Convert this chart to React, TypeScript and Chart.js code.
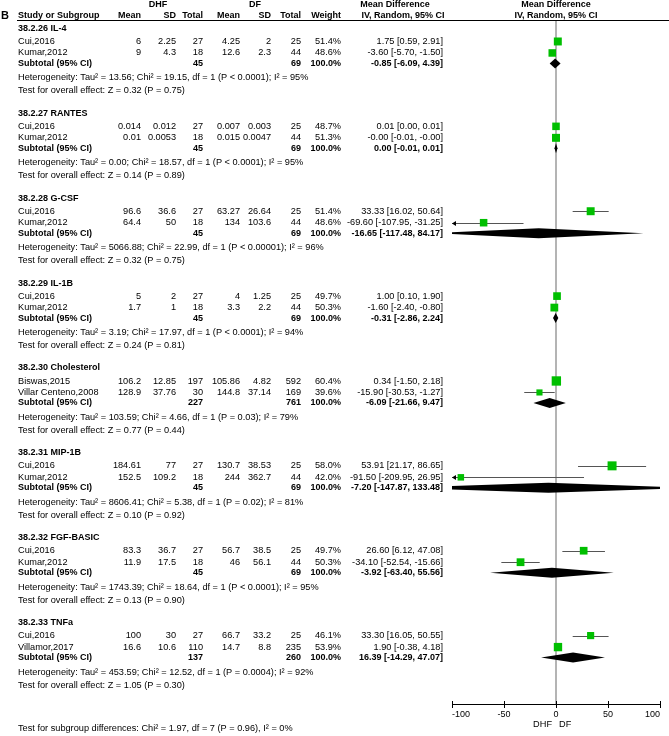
import React, { useEffect, useRef } from 'react';
import { Chart, registerables } from 'chart.js';

Chart.register(...registerables);

// ---------------- data ----------------
const groupTitles = [
  '38.2.26 IL-4',
  '38.2.27 RANTES',
  '38.2.28 G-CSF',
  '38.2.29 IL-1B',
  '38.2.30 Cholesterol',
  '38.2.31 MIP-1B',
  '38.2.32 FGF-BASIC',
  '38.2.33 TNFa',
];

const studyGroup = [0, 0, 1, 1, 2, 2, 3, 3, 4, 4, 5, 5, 6, 6, 7, 7];
const studyNames = [
  'Cui,2016', 'Kumar,2012',
  'Cui,2016', 'Kumar,2012',
  'Cui,2016', 'Kumar,2012',
  'Cui,2016', 'Kumar,2012',
  'Biswas,2015', 'Villar Centeno,2008',
  'Cui,2016', 'Kumar,2012',
  'Cui,2016', 'Kumar,2012',
  'Cui,2016', 'Villamor,2017',
];
const dhfMean = ['6', '9', '0.014', '0.01', '96.6', '64.4', '5', '1.7', '106.2', '128.9', '184.61', '152.5', '83.3', '11.9', '100', '16.6'];
const dhfSD = ['2.25', '4.3', '0.012', '0.0053', '36.6', '50', '2', '1', '12.85', '37.76', '77', '109.2', '36.7', '17.5', '30', '10.6'];
const dhfTotal = [27, 18, 27, 18, 27, 18, 27, 18, 197, 30, 27, 18, 27, 18, 27, 110];
const dfMean = ['4.25', '12.6', '0.007', '0.015', '63.27', '134', '4', '3.3', '105.86', '144.8', '130.7', '244', '56.7', '46', '66.7', '14.7'];
const dfSD = ['2', '2.3', '0.003', '0.0047', '26.64', '103.6', '1.25', '2.2', '4.82', '37.14', '38.53', '362.7', '38.5', '56.1', '33.2', '8.8'];
const dfTotal = [25, 44, 25, 44, 25, 44, 25, 44, 592, 169, 25, 44, 25, 44, 25, 235];
const weights = [51.4, 48.6, 48.7, 51.3, 51.4, 48.6, 49.7, 50.3, 60.4, 39.6, 58.0, 42.0, 49.7, 50.3, 46.1, 53.9];
const meanDiff = [1.75, -3.60, 0.01, -0.00, 33.33, -69.60, 1.00, -1.60, 0.34, -15.90, 53.91, -91.50, 26.60, -34.10, 33.30, 1.90];
const ciLow = [0.59, -5.70, 0.00, -0.01, 16.02, -107.95, 0.10, -2.40, -1.50, -30.53, 21.17, -209.95, 6.12, -52.54, 16.05, -0.38];
const ciHigh = [2.91, -1.50, 0.01, -0.00, 50.64, -31.25, 1.90, -0.80, 2.18, -1.27, 86.65, 26.95, 47.08, -15.66, 50.55, 4.18];

const subMean = [-0.85, 0.00, -16.65, -0.31, -6.09, -7.20, -3.92, 16.39];
const subLow = [-6.09, -0.01, -117.48, -2.86, -21.66, -147.87, -63.40, -14.29];
const subHigh = [4.39, 0.01, 84.17, 2.24, 9.47, 133.48, 55.56, 47.07];
const subTotalDhf = [45, 45, 45, 45, 227, 45, 45, 137];
const subTotalDf = [69, 69, 69, 69, 761, 69, 69, 260];
const hetTau2 = ['13.56', '0.00', '5066.88', '3.19', '103.59', '8606.41', '1743.39', '453.59'];
const hetChi2 = ['19.15', '18.57', '22.99', '17.97', '4.66', '5.38', '18.64', '12.52'];
const hetP = ['< 0.0001', '< 0.0001', '< 0.00001', '< 0.0001', '= 0.03', '= 0.02', '< 0.0001', '= 0.0004'];
const hetI2 = [95, 95, 96, 94, 79, 81, 95, 92];
const overallZ = ['0.32', '0.14', '0.32', '0.24', '0.77', '0.10', '0.13', '1.05'];
const overallP = ['0.75', '0.89', '0.75', '0.81', '0.44', '0.92', '0.90', '0.30'];

const xTickMin = -100;
const xTickMax = 100;
const xTickStep = 50;
const subgroupTest = 'Test for subgroup differences: Chi\u00B2 = 1.97, df = 7 (P = 0.96), I\u00B2 = 0%';

// ---------------- layout ----------------
const W = 669;
const H = 736;
const FONT = '"Liberation Sans", Arial, Helvetica, sans-serif';
const PLOT_LEFT = 452;
const PLOT_RIGHT = 660;
const PLOT_TOP = 21;
const PLOT_BOTTOM = 705;
const Y_RANGE = PLOT_BOTTOM - PLOT_TOP;
const FIRST_TITLE = 7.5;
const GROUP_PITCH = 85;
const ROW: Record<string, number> = { title: 0, s0: 13, s1: 24.5, sub: 35, het: 49.5, test: 62.5 };
const COL = { name: 18, m1: 141, sd1: 176, n1: 203, m2: 240, sd2: 271, n2: 301, w: 341, ci: 443 };
const NORMAL_SIZE = 9.2;
const BOLD_SIZE = 9;

const rowValue = (g: number, key: string) => FIRST_TITLE + g * GROUP_PITCH + ROW[key];
const studySlot = studyGroup.map((g, i) => studyGroup.slice(0, i).filter((x) => x === g).length);

const font = (bold: boolean, size?: number) =>
  `${bold ? 'bold ' : ''}${size ?? (bold ? BOLD_SIZE : NORMAL_SIZE)}px ${FONT}`;
const fmt = (v: number) => {
  const s = Math.abs(v).toFixed(2);
  return v < 0 || Object.is(v, -0) ? '-' + s : s;
};
const ciText = (m: number, l: number, h: number) => `${fmt(m)} [${fmt(l)}, ${fmt(h)}]`;

const forestPlugin = {
  id: 'forest',
  beforeDatasetsDraw(chart: any) {
    const { ctx, chartArea } = chart;
    const xs = chart.scales.x;
    const ys = chart.scales.y;
    const x0 = xs.getPixelForValue(0);
    ctx.save();
    // header rule
    ctx.strokeStyle = '#000';
    ctx.lineWidth = 1;
    ctx.beginPath();
    ctx.moveTo(17, chartArea.top - 0.5);
    ctx.lineTo(W, chartArea.top - 0.5);
    ctx.stroke();
    // zero line
    ctx.strokeStyle = '#8c8c8c';
    ctx.lineWidth = 1.3;
    ctx.beginPath();
    ctx.moveTo(x0, chartArea.top);
    ctx.lineTo(x0, chartArea.bottom);
    ctx.stroke();
    // CI lines
    ctx.strokeStyle = '#555';
    ctx.fillStyle = '#000';
    ctx.lineWidth = 1;
    meanDiff.forEach((_, i) => {
      const y = Math.round(ys.getPixelForValue(rowValue(studyGroup[i], 's' + studySlot[i]))) + 0.5;
      const lo = Math.max(ciLow[i], xTickMin);
      const hi = Math.min(ciHigh[i], xTickMax);
      const xl = xs.getPixelForValue(lo);
      const xh = xs.getPixelForValue(hi);
      ctx.beginPath();
      ctx.moveTo(xl, y);
      ctx.lineTo(xh, y);
      ctx.stroke();
      if (ciLow[i] < xTickMin) {
        ctx.beginPath();
        ctx.moveTo(xl, y);
        ctx.lineTo(xl + 4, y - 2.5);
        ctx.lineTo(xl + 4, y + 2.5);
        ctx.closePath();
        ctx.fill();
      }
      if (ciHigh[i] > xTickMax) {
        ctx.beginPath();
        ctx.moveTo(xh, y);
        ctx.lineTo(xh - 4, y - 2.5);
        ctx.lineTo(xh - 4, y + 2.5);
        ctx.closePath();
        ctx.fill();
      }
    });
    // diamonds
    ctx.beginPath();
    ctx.rect(chartArea.left, chartArea.top, chartArea.right - chartArea.left, chartArea.bottom - chartArea.top);
    ctx.clip();
    ctx.fillStyle = '#000';
    subMean.forEach((m, g) => {
      const y = ys.getPixelForValue(rowValue(g, 'sub'));
      let xl = xs.getPixelForValue(subLow[g]);
      let xh = xs.getPixelForValue(subHigh[g]);
      const xm = xs.getPixelForValue(m);
      if (xh - xl < 3) {
        xl = xm - 1.5;
        xh = xm + 1.5;
      }
      ctx.beginPath();
      ctx.moveTo(xl, y);
      ctx.lineTo(xm, y - 5);
      ctx.lineTo(xh, y);
      ctx.lineTo(xm, y + 5);
      ctx.closePath();
      ctx.fill();
    });
    ctx.restore();
  },
  afterDraw(chart: any) {
    const { ctx, chartArea } = chart;
    const xs = chart.scales.x;
    const ys = chart.scales.y;
    const x0 = xs.getPixelForValue(0);
    ctx.save();
    ctx.fillStyle = '#000';
    ctx.textBaseline = 'middle';
    const t = (s: string, x: number, y: number, align: CanvasTextAlign, bold = false, size?: number) => {
      ctx.font = font(bold, size);
      ctx.textAlign = align;
      ctx.fillText(s, x, y);
    };
    // upward halves of the axis ticks
    ctx.strokeStyle = '#000';
    ctx.lineWidth = 1;
    xs.ticks.forEach((tk: any) => {
      const x = Math.round(xs.getPixelForValue(tk.value)) + 0.5;
      ctx.beginPath();
      ctx.moveTo(x, chartArea.bottom - 3);
      ctx.lineTo(x, chartArea.bottom);
      ctx.stroke();
    });
    // headers
    const hy1 = 5;
    const hy2 = 15.5;
    t('B', 1, hy2, 'left', true, 11);
    t('DHF', 158, hy1, 'center', true);
    t('DF', 255, hy1, 'center', true);
    t('Study or Subgroup', COL.name, hy2, 'left', true);
    t('Mean', COL.m1, hy2, 'right', true);
    t('SD', COL.sd1, hy2, 'right', true);
    t('Total', COL.n1, hy2, 'right', true);
    t('Mean', COL.m2, hy2, 'right', true);
    t('SD', COL.sd2, hy2, 'right', true);
    t('Total', COL.n2, hy2, 'right', true);
    t('Weight', COL.w, hy2, 'right', true);
    t('Mean Difference', 395, hy1, 'center', true);
    t('IV, Random, 95% CI', 403, hy2, 'center', true);
    t('Mean Difference', x0, hy1, 'center', true);
    t('IV, Random, 95% CI', x0, hy2, 'center', true);
    // groups
    groupTitles.forEach((title, g) => {
      t(title, COL.name, ys.getPixelForValue(rowValue(g, 'title')), 'left', true);
      const ys0 = ys.getPixelForValue(rowValue(g, 'sub'));
      t('Subtotal (95% CI)', COL.name, ys0, 'left', true);
      t(String(subTotalDhf[g]), COL.n1, ys0, 'right', true);
      t(String(subTotalDf[g]), COL.n2, ys0, 'right', true);
      t('100.0%', COL.w, ys0, 'right', true);
      t(ciText(subMean[g], subLow[g], subHigh[g]), COL.ci, ys0, 'right', true);
      t(
        `Heterogeneity: Tau\u00B2 = ${hetTau2[g]}; Chi\u00B2 = ${hetChi2[g]}, df = 1 (P ${hetP[g]}); I\u00B2 = ${hetI2[g]}%`,
        COL.name, ys.getPixelForValue(rowValue(g, 'het')), 'left'
      );
      t(`Test for overall effect: Z = ${overallZ[g]} (P = ${overallP[g]})`, COL.name, ys.getPixelForValue(rowValue(g, 'test')), 'left');
    });
    studyNames.forEach((name, i) => {
      const y = ys.getPixelForValue(rowValue(studyGroup[i], 's' + studySlot[i]));
      t(name, COL.name, y, 'left');
      t(dhfMean[i], COL.m1, y, 'right');
      t(dhfSD[i], COL.sd1, y, 'right');
      t(String(dhfTotal[i]), COL.n1, y, 'right');
      t(dfMean[i], COL.m2, y, 'right');
      t(dfSD[i], COL.sd2, y, 'right');
      t(String(dfTotal[i]), COL.n2, y, 'right');
      t(weights[i].toFixed(1) + '%', COL.w, y, 'right');
      t(ciText(meanDiff[i], ciLow[i], ciHigh[i]), COL.ci, y, 'right');
    });
    // axis side labels
    t('DHF', x0 - 4, 724.5, 'right');
    t('DF', x0 + 3, 724.5, 'left');
    t(subgroupTest, COL.name, 728.5, 'left');
    ctx.restore();
  },
};

export default function App() {
  const ref = useRef<HTMLCanvasElement | null>(null);
  useEffect(() => {
    document.body.style.margin = '0';
    const canvas = ref.current;
    if (!canvas) return;
    const chart = new Chart(canvas, {
      type: 'scatter',
      data: {
        datasets: [
          {
            data: meanDiff.map((m, i) => ({ x: m, y: rowValue(studyGroup[i], 's' + studySlot[i]) })),
            pointStyle: 'rect',
            pointRadius: (c: any) => (weights[c.dataIndex] * 0.155) / Math.SQRT2,
            pointHoverRadius: (c: any) => (weights[c.dataIndex] * 0.155) / Math.SQRT2,
            backgroundColor: '#00bf00',
            borderWidth: 0,
          },
        ],
      },
      options: {
        responsive: false,
        animation: false,
        events: [],
        layout: { padding: { left: PLOT_LEFT, right: W - PLOT_RIGHT, top: PLOT_TOP, bottom: 15.2 } },
        scales: {
          x: {
            type: 'linear',
            min: xTickMin,
            max: xTickMax,
            position: 'bottom',
            grid: { drawOnChartArea: false, drawTicks: true, tickLength: 4, color: '#000', lineWidth: 1 },
            border: { display: true, color: '#000', width: 1 },
            ticks: {
              stepSize: xTickStep,
              align: 'inner',
              autoSkip: false,
              maxRotation: 0,
              padding: 1,
              color: '#000',
              font: { family: FONT, size: 9 },
            },
          },
          y: { type: 'linear', min: 0, max: Y_RANGE, reverse: true, display: false },
        },
        plugins: { legend: { display: false }, tooltip: { enabled: false } },
      } as any,
      plugins: [forestPlugin],
    });
    return () => chart.destroy();
  }, []);
  return <canvas ref={ref} width={W} height={H} style={{ display: 'block', width: W, height: H }} />;
}
